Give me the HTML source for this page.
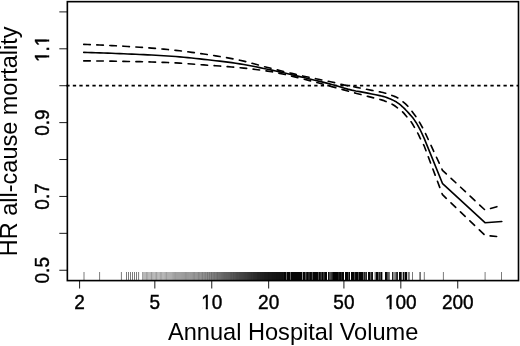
<!DOCTYPE html>
<html><head><meta charset="utf-8"><title>HR all-cause mortality vs Annual Hospital Volume</title><style>html,body{margin:0;padding:0;background:#fff}</style></head><body>
<svg width="520" height="346" viewBox="0 0 520 346" style="display:block">
<rect width="520" height="346" fill="#fff" stroke="none"/>
<g fill="none" stroke="#000" stroke-width="0.8" stroke-opacity="0.5"><path d="M142.60,272V280.6M150.22,272V280.6M157.84,272V280.6M165.34,272V280.6M172.27,272V280.6M178.65,272V280.6M184.58,272V280.6M190.11,272V280.6M195.28,272V280.6M200.15,272V280.6M204.69,272V280.6M208.88,272V280.6M212.76,272V280.6M216.38,272V280.6M219.76,272V280.6M222.94,272V280.6M225.93,272V280.6M228.76,272V280.6M231.44,272V280.6M233.98,272V280.6M236.40,272V280.6M238.71,272V280.6M240.91,272V280.6M243.02,272V280.6M245.04,272V280.6M246.98,272V280.6M248.85,272V280.6M250.64,272V280.6M252.37,272V280.6M254.04,272V280.6M255.65,272V280.6M257.20,272V280.6M258.71,272V280.6M260.17,272V280.6M261.58,272V280.6M262.95,272V280.6M264.28,272V280.6M265.57,272V280.6M266.84,272V280.6M268.08,272V280.6M269.31,272V280.6M270.53,272V280.6M271.72,272V280.6M272.90,272V280.6M274.06,272V280.6M275.20,272V280.6M276.33,272V280.6M277.45,272V280.6M278.54,272V280.6M279.63,272V280.6M280.70,272V280.6M281.76,272V280.6M282.80,272V280.6M283.83,272V280.6"/><path d="M143.87,272V280.6M151.49,272V280.6M159.11,272V280.6M166.54,272V280.6M173.37,272V280.6M179.67,272V280.6M185.53,272V280.6M190.99,272V280.6M196.11,272V280.6M200.94,272V280.6M205.41,272V280.6M209.55,272V280.6M213.38,272V280.6M216.96,272V280.6M220.31,272V280.6M223.45,272V280.6M226.41,272V280.6M229.21,272V280.6M231.87,272V280.6M234.39,272V280.6M236.79,272V280.6M239.08,272V280.6M241.27,272V280.6M243.36,272V280.6M245.37,272V280.6M247.30,272V280.6M249.15,272V280.6M250.93,272V280.6M252.65,272V280.6M254.31,272V280.6M255.91,272V280.6M257.46,272V280.6M258.95,272V280.6M260.40,272V280.6M261.81,272V280.6M263.17,272V280.6M264.49,272V280.6M265.78,272V280.6M267.05,272V280.6M268.29,272V280.6M269.52,272V280.6M270.73,272V280.6M271.92,272V280.6M273.09,272V280.6M274.25,272V280.6M275.39,272V280.6M276.52,272V280.6M277.63,272V280.6M278.73,272V280.6M279.81,272V280.6M280.88,272V280.6M281.93,272V280.6M282.97,272V280.6M284.00,272V280.6"/><path d="M145.14,272V280.6M152.76,272V280.6M160.38,272V280.6M167.72,272V280.6M174.45,272V280.6M180.68,272V280.6M186.46,272V280.6M191.87,272V280.6M196.94,272V280.6M201.71,272V280.6M206.13,272V280.6M210.21,272V280.6M214.00,272V280.6M217.53,272V280.6M220.84,272V280.6M223.96,272V280.6M226.89,272V280.6M229.67,272V280.6M232.30,272V280.6M234.80,272V280.6M237.18,272V280.6M239.45,272V280.6M241.62,272V280.6M243.70,272V280.6M245.70,272V280.6M247.61,272V280.6M249.45,272V280.6M251.22,272V280.6M252.93,272V280.6M254.58,272V280.6M256.17,272V280.6M257.71,272V280.6M259.20,272V280.6M260.64,272V280.6M262.04,272V280.6M263.39,272V280.6M264.71,272V280.6M265.99,272V280.6M267.25,272V280.6M268.50,272V280.6M269.72,272V280.6M270.93,272V280.6M272.12,272V280.6M273.29,272V280.6M274.44,272V280.6M275.58,272V280.6M276.71,272V280.6M277.81,272V280.6M278.91,272V280.6M279.99,272V280.6M281.05,272V280.6M282.10,272V280.6M283.14,272V280.6"/><path d="M146.41,272V280.6M154.03,272V280.6M161.65,272V280.6M168.88,272V280.6M175.52,272V280.6M181.67,272V280.6M187.39,272V280.6M192.73,272V280.6M197.75,272V280.6M202.47,272V280.6M206.83,272V280.6M210.86,272V280.6M214.60,272V280.6M218.10,272V280.6M221.38,272V280.6M224.46,272V280.6M227.36,272V280.6M230.12,272V280.6M232.72,272V280.6M235.20,272V280.6M237.57,272V280.6M239.82,272V280.6M241.98,272V280.6M244.04,272V280.6M246.02,272V280.6M247.92,272V280.6M249.75,272V280.6M251.51,272V280.6M253.21,272V280.6M254.85,272V280.6M256.43,272V280.6M257.96,272V280.6M259.44,272V280.6M260.88,272V280.6M262.27,272V280.6M263.62,272V280.6M264.93,272V280.6M266.20,272V280.6M267.46,272V280.6M268.70,272V280.6M269.92,272V280.6M271.13,272V280.6M272.31,272V280.6M273.48,272V280.6M274.63,272V280.6M275.77,272V280.6M276.89,272V280.6M278.00,272V280.6M279.09,272V280.6M280.17,272V280.6M281.23,272V280.6M282.28,272V280.6M283.31,272V280.6"/><path d="M147.68,272V280.6M155.30,272V280.6M162.90,272V280.6M170.02,272V280.6M176.58,272V280.6M182.65,272V280.6M188.30,272V280.6M193.59,272V280.6M198.56,272V280.6M203.22,272V280.6M207.52,272V280.6M211.50,272V280.6M215.20,272V280.6M218.66,272V280.6M221.90,272V280.6M224.95,272V280.6M227.83,272V280.6M230.56,272V280.6M233.15,272V280.6M235.61,272V280.6M237.95,272V280.6M240.19,272V280.6M242.33,272V280.6M244.38,272V280.6M246.34,272V280.6M248.23,272V280.6M250.05,272V280.6M251.80,272V280.6M253.49,272V280.6M255.12,272V280.6M256.69,272V280.6M258.21,272V280.6M259.69,272V280.6M261.11,272V280.6M262.50,272V280.6M263.84,272V280.6M265.14,272V280.6M266.42,272V280.6M267.67,272V280.6M268.91,272V280.6M270.13,272V280.6M271.33,272V280.6M272.51,272V280.6M273.67,272V280.6M274.82,272V280.6M275.96,272V280.6M277.08,272V280.6M278.18,272V280.6M279.27,272V280.6M280.34,272V280.6M281.40,272V280.6M282.45,272V280.6M283.49,272V280.6"/><path d="M148.95,272V280.6M156.57,272V280.6M164.13,272V280.6M171.15,272V280.6M177.62,272V280.6M183.62,272V280.6M189.21,272V280.6M194.44,272V280.6M199.36,272V280.6M203.96,272V280.6M208.20,272V280.6M212.13,272V280.6M215.79,272V280.6M219.21,272V280.6M222.42,272V280.6M225.44,272V280.6M228.30,272V280.6M231.00,272V280.6M233.56,272V280.6M236.00,272V280.6M238.33,272V280.6M240.55,272V280.6M242.67,272V280.6M244.71,272V280.6M246.66,272V280.6M248.54,272V280.6M250.35,272V280.6M252.09,272V280.6M253.76,272V280.6M255.38,272V280.6M256.95,272V280.6M258.46,272V280.6M259.93,272V280.6M261.35,272V280.6M262.72,272V280.6M264.06,272V280.6M265.35,272V280.6M266.63,272V280.6M267.88,272V280.6M269.11,272V280.6M270.33,272V280.6M271.52,272V280.6M272.70,272V280.6M273.87,272V280.6M275.01,272V280.6M276.15,272V280.6M277.26,272V280.6M278.36,272V280.6M279.45,272V280.6M280.52,272V280.6M281.58,272V280.6M282.63,272V280.6M283.66,272V280.6"/></g><g fill="none" stroke="#000" stroke-width="0.8" stroke-opacity="0.65"><path d="M84.00,272V280.6M132.50,272V280.6M424.30,272V280.6"/><path d="M99.60,272V280.6M134.50,272V280.6M443.40,272V280.6"/><path d="M121.40,272V280.6M136.50,272V280.6M485.10,272V280.6"/><path d="M126.50,272V280.6M138.60,272V280.6M501.50,272V280.6"/><path d="M128.50,272V280.6M419.80,272V280.6"/><path d="M130.50,272V280.6M420.40,272V280.6"/></g><g fill="#000" shape-rendering="crispEdges"><rect x="284" y="272" width="1" height="8.6" fill-opacity="0.98"/><rect x="285" y="272" width="1" height="8.6" fill-opacity="0.98"/><rect x="286" y="272" width="1" height="8.6" fill-opacity="0.61"/><rect x="287" y="272" width="1" height="8.6" fill-opacity="0.98"/><rect x="288" y="272" width="1" height="8.6" fill-opacity="0.98"/><rect x="289" y="272" width="1" height="8.6" fill-opacity="0.98"/><rect x="290" y="272" width="1" height="8.6" fill-opacity="0.61"/><rect x="291" y="272" width="1" height="8.6" fill-opacity="0.98"/><rect x="292" y="272" width="1" height="8.6" fill-opacity="0.98"/><rect x="293" y="272" width="1" height="8.6" fill-opacity="0.98"/><rect x="294" y="272" width="1" height="8.6" fill-opacity="0.98"/><rect x="295" y="272" width="1" height="8.6" fill-opacity="0.98"/><rect x="296" y="272" width="1" height="8.6" fill-opacity="0.98"/><rect x="297" y="272" width="1" height="8.6" fill-opacity="0.98"/><rect x="298" y="272" width="1" height="8.6" fill-opacity="0.98"/><rect x="299" y="272" width="1" height="8.6" fill-opacity="0.98"/><rect x="300" y="272" width="1" height="8.6" fill-opacity="0.98"/><rect x="301" y="272" width="1" height="8.6" fill-opacity="0.98"/><rect x="302" y="272" width="1" height="8.6" fill-opacity="0.44"/><rect x="303" y="272" width="1" height="8.6" fill-opacity="0.98"/><rect x="304" y="272" width="1" height="8.6" fill-opacity="0.98"/><rect x="305" y="272" width="1" height="8.6" fill-opacity="0.69"/><rect x="306" y="272" width="1" height="8.6" fill-opacity="0.86"/><rect x="307" y="272" width="1" height="8.6" fill-opacity="0.98"/><rect x="308" y="272" width="1" height="8.6" fill-opacity="0.86"/><rect x="309" y="272" width="1" height="8.6" fill-opacity="0.86"/><rect x="310" y="272" width="1" height="8.6" fill-opacity="0.98"/><rect x="311" y="272" width="1" height="8.6" fill-opacity="0.94"/><rect x="312" y="272" width="1" height="8.6" fill-opacity="0.69"/><rect x="313" y="272" width="1" height="8.6" fill-opacity="0.98"/><rect x="314" y="272" width="1" height="8.6" fill-opacity="0.98"/><rect x="315" y="272" width="1" height="8.6" fill-opacity="0.98"/><rect x="316" y="272" width="1" height="8.6" fill-opacity="0.98"/><rect x="317" y="272" width="1" height="8.6" fill-opacity="0.98"/><rect x="318" y="272" width="1" height="8.6" fill-opacity="0.69"/><rect x="319" y="272" width="1" height="8.6" fill-opacity="0.98"/><rect x="320" y="272" width="1" height="8.6" fill-opacity="0.86"/><rect x="321" y="272" width="1" height="8.6" fill-opacity="0.77"/><rect x="322" y="272" width="1" height="8.6" fill-opacity="0.98"/><rect x="323" y="272" width="1" height="8.6" fill-opacity="0.77"/><rect x="324" y="272" width="1" height="8.6" fill-opacity="0.86"/><rect x="325" y="272" width="1" height="8.6" fill-opacity="0.98"/><rect x="326" y="272" width="1" height="8.6" fill-opacity="0.98"/><rect x="328" y="272" width="1" height="8.6" fill-opacity="0.94"/><rect x="329" y="272" width="1" height="8.6" fill-opacity="0.69"/><rect x="330" y="272" width="1" height="8.6" fill-opacity="0.69"/><rect x="331" y="272" width="1" height="8.6" fill-opacity="0.77"/><rect x="332" y="272" width="1" height="8.6" fill-opacity="0.86"/><rect x="333" y="272" width="1" height="8.6" fill-opacity="0.98"/><rect x="334" y="272" width="1" height="8.6" fill-opacity="0.98"/><rect x="335" y="272" width="1" height="8.6" fill-opacity="0.98"/><rect x="336" y="272" width="1" height="8.6" fill-opacity="0.98"/><rect x="337" y="272" width="1" height="8.6" fill-opacity="0.98"/><rect x="338" y="272" width="1" height="8.6" fill-opacity="0.86"/><rect x="339" y="272" width="1" height="8.6" fill-opacity="0.94"/><rect x="340" y="272" width="1" height="8.6" fill-opacity="0.98"/><rect x="341" y="272" width="1" height="8.6" fill-opacity="0.86"/><rect x="342" y="272" width="1" height="8.6" fill-opacity="0.98"/><rect x="343" y="272" width="1" height="8.6" fill-opacity="0.98"/><rect x="345" y="272" width="1" height="8.6" fill-opacity="0.98"/><rect x="346" y="272" width="1" height="8.6" fill-opacity="0.98"/><rect x="347" y="272" width="1" height="8.6" fill-opacity="0.98"/><rect x="348" y="272" width="1" height="8.6" fill-opacity="0.69"/><rect x="349" y="272" width="1" height="8.6" fill-opacity="0.98"/><rect x="351" y="272" width="1" height="8.6" fill-opacity="0.98"/><rect x="352" y="272" width="1" height="8.6" fill-opacity="0.98"/><rect x="353" y="272" width="1" height="8.6" fill-opacity="0.98"/><rect x="354" y="272" width="1" height="8.6" fill-opacity="0.69"/><rect x="355" y="272" width="1" height="8.6" fill-opacity="0.94"/><rect x="356" y="272" width="1" height="8.6" fill-opacity="0.98"/><rect x="357" y="272" width="1" height="8.6" fill-opacity="0.98"/><rect x="358" y="272" width="1" height="8.6" fill-opacity="0.69"/><rect x="359" y="272" width="1" height="8.6" fill-opacity="0.98"/><rect x="360" y="272" width="1" height="8.6" fill-opacity="0.98"/><rect x="361" y="272" width="1" height="8.6" fill-opacity="0.98"/><rect x="362" y="272" width="1" height="8.6" fill-opacity="0.98"/><rect x="363" y="272" width="1" height="8.6" fill-opacity="0.61"/><rect x="364" y="272" width="1" height="8.6" fill-opacity="0.86"/><rect x="365" y="272" width="1" height="8.6" fill-opacity="0.69"/><rect x="366" y="272" width="1" height="8.6" fill-opacity="0.86"/><rect x="368" y="272" width="1" height="8.6" fill-opacity="0.98"/><rect x="369" y="272" width="1" height="8.6" fill-opacity="0.98"/><rect x="370" y="272" width="1" height="8.6" fill-opacity="0.61"/><rect x="371" y="272" width="1" height="8.6" fill-opacity="0.86"/><rect x="372" y="272" width="1" height="8.6" fill-opacity="0.94"/><rect x="374" y="272" width="1" height="8.6" fill-opacity="0.27"/><rect x="375" y="272" width="1" height="8.6" fill-opacity="0.52"/><rect x="376" y="272" width="1" height="8.6" fill-opacity="0.98"/><rect x="377" y="272" width="1" height="8.6" fill-opacity="0.98"/><rect x="378" y="272" width="1" height="8.6" fill-opacity="0.61"/><rect x="379" y="272" width="1" height="8.6" fill-opacity="0.86"/><rect x="380" y="272" width="1" height="8.6" fill-opacity="0.69"/><rect x="381" y="272" width="1" height="8.6" fill-opacity="0.98"/><rect x="382" y="272" width="1" height="8.6" fill-opacity="0.36"/><rect x="385" y="272" width="1" height="8.6" fill-opacity="0.98"/><rect x="386" y="272" width="1" height="8.6" fill-opacity="0.94"/><rect x="387" y="272" width="1" height="8.6" fill-opacity="0.69"/><rect x="388" y="272" width="1" height="8.6" fill-opacity="0.61"/><rect x="389" y="272" width="1" height="8.6" fill-opacity="0.52"/><rect x="392" y="272" width="1" height="8.6" fill-opacity="0.86"/><rect x="393" y="272" width="1" height="8.6" fill-opacity="0.44"/><rect x="394" y="272" width="1" height="8.6" fill-opacity="0.44"/><rect x="395" y="272" width="1" height="8.6" fill-opacity="0.52"/><rect x="396" y="272" width="1" height="8.6" fill-opacity="0.77"/><rect x="397" y="272" width="1" height="8.6" fill-opacity="0.86"/><rect x="399" y="272" width="1" height="8.6" fill-opacity="0.98"/><rect x="400" y="272" width="1" height="8.6" fill-opacity="0.98"/><rect x="401" y="272" width="1" height="8.6" fill-opacity="0.69"/><rect x="402" y="272" width="1" height="8.6" fill-opacity="0.27"/><rect x="403" y="272" width="1" height="8.6" fill-opacity="0.94"/><rect x="404" y="272" width="1" height="8.6" fill-opacity="0.52"/><rect x="405" y="272" width="1" height="8.6" fill-opacity="0.98"/><rect x="406" y="272" width="1" height="8.6" fill-opacity="0.98"/><rect x="407" y="272" width="1" height="8.6" fill-opacity="0.19"/><rect x="408" y="272" width="1" height="8.6" fill-opacity="0.52"/><rect x="409" y="272" width="1" height="8.6" fill-opacity="0.44"/><rect x="412" y="272" width="1" height="8.6" fill-opacity="0.52"/></g>
<g fill="none" stroke="#000" stroke-width="1.631" stroke-linecap="round" stroke-linejoin="round">
<path d="M83.75,52.40 L87.75,52.51 L91.75,52.62 L95.75,52.75 L99.75,52.88 L103.75,53.01 L107.75,53.16 L111.75,53.31 L115.75,53.46 L119.75,53.62 L123.75,53.79 L127.75,53.96 L131.75,54.13 L135.75,54.31 L139.75,54.49 L143.75,54.67 L147.75,54.86 L151.75,55.06 L155.75,55.27 L159.75,55.49 L163.75,55.73 L167.75,55.98 L171.75,56.25 L175.75,56.54 L179.75,56.88 L183.75,57.25 L187.75,57.64 L191.75,58.06 L195.75,58.49 L199.75,58.92 L203.75,59.36 L207.75,59.80 L211.75,60.24 L215.75,60.69 L219.75,61.16 L223.75,61.64 L227.75,62.14 L231.75,62.68 L235.75,63.24 L239.75,63.85 L243.75,64.51 L247.75,65.23 L251.75,65.99 L255.75,66.78 L259.75,67.60 L263.75,68.44 L267.75,69.28 L271.75,70.12 L275.75,70.99 L279.75,71.88 L283.75,72.80 L287.75,73.73 L291.75,74.68 L295.75,75.63 L299.75,76.59 L303.75,77.55 L307.75,78.50 L311.75,79.46 L315.75,80.42 L319.75,81.40 L323.75,82.39 L327.75,83.40 L331.75,84.44 L335.75,85.51 L339.75,86.68 L343.75,87.92 L347.75,89.10 L351.75,90.11 L355.75,90.94 L359.75,91.67 L363.75,92.39 L367.75,93.15 L371.75,93.93 L375.75,94.72 L379.75,95.58 L380.00,95.64 L381.50,96.00 L383.00,96.39 L384.50,96.82 L386.00,97.31 L387.50,97.86 L389.00,98.45 L390.50,99.05 L392.00,99.69 L393.50,100.38 L395.00,101.15 L396.50,102.05 L398.00,103.08 L399.50,104.21 L401.00,105.42 L402.50,106.77 L404.00,108.21 L405.50,109.70 L407.00,111.27 L408.50,112.91 L410.00,114.60 L411.50,116.30 L413.00,118.09 L414.50,120.12 L416.00,122.45 L417.50,124.94 L419.00,127.58 L420.30,130.00 L424.30,138.60 L442.60,183.70 L485.00,222.70 L501.80,221.50"/>
<path d="M83.75,44.40 L87.75,44.52 L91.75,44.66 L95.75,44.82 L99.75,44.99 L103.75,45.17 L107.75,45.36 L111.75,45.57 L115.75,45.78 L119.75,46.01 L123.75,46.24 L127.75,46.48 L131.75,46.72 L135.75,46.98 L139.75,47.23 L143.75,47.50 L147.75,47.79 L151.75,48.10 L155.75,48.43 L159.75,48.78 L163.75,49.14 L167.75,49.53 L171.75,49.92 L175.75,50.34 L179.75,50.80 L183.75,51.28 L187.75,51.79 L191.75,52.32 L195.75,52.87 L199.75,53.44 L203.75,54.02 L207.75,54.61 L211.75,55.21 L215.75,55.84 L219.75,56.49 L223.75,57.17 L227.75,57.87 L231.75,58.61 L235.75,59.40 L239.75,60.23 L243.75,61.15 L247.75,62.15 L251.75,63.21 L255.75,64.30 L259.75,65.39 L263.75,66.48 L267.75,67.53 L271.75,68.53 L275.75,69.52 L279.75,70.51 L283.75,71.49 L287.75,72.46 L291.75,73.41 L295.75,74.36 L299.75,75.28 L303.75,76.18 L307.75,77.04 L311.75,77.88 L315.75,78.69 L319.75,79.50 L323.75,80.32 L327.75,81.15 L331.75,82.02 L335.75,82.93 L339.75,83.94 L343.75,84.87 L347.75,85.67 L351.75,86.42 L355.75,87.16 L359.75,87.95 L363.75,88.74 L367.75,89.55 L371.75,90.34 L375.75,91.10 L379.75,91.87 L380.00,91.92 L381.50,92.24 L383.00,92.57 L384.50,92.94 L386.00,93.35 L387.50,93.81 L389.00,94.32 L390.50,94.87 L392.00,95.44 L393.50,96.02 L395.00,96.62 L396.50,97.28 L398.00,98.04 L399.50,99.00 L401.00,100.15 L402.50,101.40 L404.00,102.65 L405.50,103.95 L407.00,105.35 L408.50,106.90 L410.00,108.74 L411.50,110.77 L413.00,112.75 L414.50,114.74 L416.00,116.82 L417.50,119.06 L419.00,121.44 L420.00,123.10 L424.30,130.90 L442.50,170.30 L485.00,210.00 L501.80,205.30" stroke-dasharray="6.525 6.525"/>
<path d="M83.75,60.90 L87.75,60.92 L91.75,60.94 L95.75,60.97 L99.75,61.01 L103.75,61.06 L107.75,61.11 L111.75,61.17 L115.75,61.24 L119.75,61.31 L123.75,61.38 L127.75,61.46 L131.75,61.53 L135.75,61.61 L139.75,61.69 L143.75,61.78 L147.75,61.88 L151.75,61.99 L155.75,62.11 L159.75,62.25 L163.75,62.39 L167.75,62.55 L171.75,62.72 L175.75,62.91 L179.75,63.14 L183.75,63.40 L187.75,63.68 L191.75,63.99 L195.75,64.29 L199.75,64.61 L203.75,64.91 L207.75,65.20 L211.75,65.48 L215.75,65.77 L219.75,66.05 L223.75,66.35 L227.75,66.66 L231.75,66.99 L235.75,67.34 L239.75,67.72 L243.75,68.12 L247.75,68.55 L251.75,69.00 L255.75,69.48 L259.75,70.00 L263.75,70.56 L267.75,71.15 L271.75,71.79 L275.75,72.52 L279.75,73.34 L283.75,74.22 L287.75,75.16 L291.75,76.13 L295.75,77.13 L299.75,78.12 L303.75,79.11 L307.75,80.12 L311.75,81.16 L315.75,82.22 L319.75,83.31 L323.75,84.41 L327.75,85.51 L331.75,86.61 L335.75,87.70 L339.75,88.81 L343.75,89.91 L347.75,91.01 L351.75,92.11 L355.75,93.20 L359.75,94.26 L363.75,95.31 L367.75,96.34 L371.75,97.38 L375.75,98.37 L379.75,99.39 L380.00,99.46 L381.50,99.89 L383.00,100.35 L384.50,100.88 L386.00,101.51 L387.50,102.15 L389.00,102.77 L390.50,103.42 L392.00,104.14 L393.50,105.01 L395.00,106.03 L396.50,107.13 L398.00,108.25 L399.50,109.35 L401.00,110.51 L402.50,111.81 L404.00,113.39 L405.50,115.21 L407.00,117.02 L408.50,118.68 L410.00,120.37 L411.50,122.33 L413.00,124.79 L414.50,127.45 L416.00,130.00 L417.50,132.64 L419.00,135.66 L420.00,137.90 L424.30,146.20 L442.50,194.70 L485.00,235.30 L501.80,237.00" stroke-dasharray="6.525 6.525"/>
<path d="M66.3,85.6 H518.5" stroke-dasharray="3.3 3.225" stroke-linecap="butt"/>
</g>
<rect x="67.35" y="1.65" width="451.15" height="278.95000000000005" fill="none" stroke="#000" stroke-width="1.631"/>
<g stroke="#000" stroke-width="0.9">
<line x1="79.60" y1="280.6" x2="79.60" y2="288.5"/>
<line x1="154.84" y1="280.6" x2="154.84" y2="288.5"/>
<line x1="211.75" y1="280.6" x2="211.75" y2="288.5"/>
<line x1="268.67" y1="280.6" x2="268.67" y2="288.5"/>
<line x1="343.91" y1="280.6" x2="343.91" y2="288.5"/>
<line x1="400.82" y1="280.6" x2="400.82" y2="288.5"/>
<line x1="457.74" y1="280.6" x2="457.74" y2="288.5"/>
<line x1="59.3" y1="11.90" x2="67.35" y2="11.90"/>
<line x1="59.3" y1="48.81" x2="67.35" y2="48.81"/>
<line x1="59.3" y1="85.71" x2="67.35" y2="85.71"/>
<line x1="59.3" y1="122.62" x2="67.35" y2="122.62"/>
<line x1="59.3" y1="159.53" x2="67.35" y2="159.53"/>
<line x1="59.3" y1="196.44" x2="67.35" y2="196.44"/>
<line x1="59.3" y1="233.34" x2="67.35" y2="233.34"/>
<line x1="59.3" y1="270.25" x2="67.35" y2="270.25"/>
</g>
<g font-family="'Liberation Sans', sans-serif" font-size="19.0" fill="#000" stroke="#000" stroke-width="0.4" text-anchor="middle">
<g transform="translate(79.60,309.1) scale(1,1.04)"><text>2</text></g>
<g transform="translate(154.84,309.1) scale(1,1.04)"><text>5</text></g>
<g transform="translate(211.75,309.1) scale(1,1.04)"><text>10</text><rect x="-9.64" y="-2.22" width="3.65" height="3.92" fill="#fff" stroke="none"/><rect x="-3.91" y="-2.22" width="3.75" height="3.92" fill="#fff" stroke="none"/></g>
<g transform="translate(268.67,309.1) scale(1,1.04)"><text>20</text></g>
<g transform="translate(343.91,309.1) scale(1,1.04)"><text>50</text></g>
<g transform="translate(400.82,309.1) scale(1,1.04)"><text>100</text><rect x="-14.92" y="-2.22" width="3.65" height="3.92" fill="#fff" stroke="none"/><rect x="-9.19" y="-2.22" width="3.75" height="3.92" fill="#fff" stroke="none"/></g>
<g transform="translate(457.74,309.1) scale(1,1.04)"><text>200</text></g>
<g transform="translate(49.05,270.25) rotate(-90) scale(1,1.04)"><text>0.5</text></g>
<g transform="translate(49.05,196.44) rotate(-90) scale(1,1.04)"><text>0.7</text></g>
<g transform="translate(49.05,122.62) rotate(-90) scale(1,1.04)"><text>0.9</text></g>
<g transform="translate(49.05,48.81) rotate(-90) scale(1,1.04)"><text>1.1</text><rect x="-12.28" y="-2.22" width="3.65" height="3.92" fill="#fff" stroke="none"/><rect x="-6.55" y="-2.22" width="3.75" height="3.92" fill="#fff" stroke="none"/><rect x="3.57" y="-2.22" width="3.65" height="3.92" fill="#fff" stroke="none"/><rect x="9.30" y="-2.22" width="3.75" height="3.92" fill="#fff" stroke="none"/></g>
</g>
<g font-family="'Liberation Sans', sans-serif" fill="#000" text-anchor="middle">
<text transform="translate(293.15,339.6) scale(1,1.03)" font-size="23.6">Annual Hospital Volume</text>
<text transform="translate(17.1,141.3) rotate(-90) scale(1,1.033)" font-size="23.5">HR all-cause mortality</text>
</g>
</svg>
</body></html>
